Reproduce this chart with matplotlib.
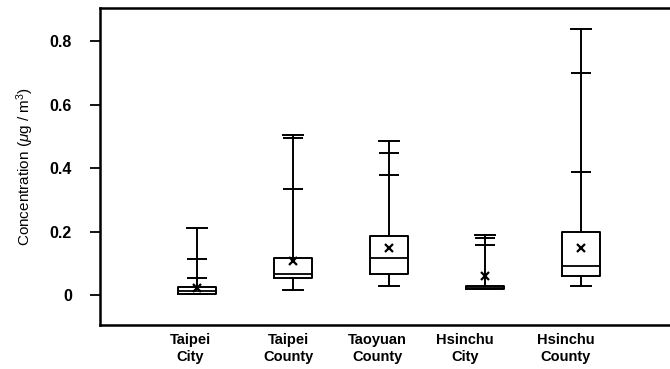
import matplotlib
matplotlib.use("Agg")
import matplotlib.pyplot as plt

plt.rcParams["font.family"] = ["Liberation Sans", "DejaVu Sans"]
plt.rcParams["mathtext.fontset"] = "custom"
plt.rcParams["mathtext.rm"] = "Liberation Sans"
plt.rcParams["mathtext.it"] = "Liberation Sans:italic"

# sites and box statistics (ug/m3)
sites = ["Taipei\nCity", "Taipei\nCounty", "Taoyuan\nCounty", "Hsinchu\nCity", "Hsinchu\nCounty"]
lows = [0.003, 0.017, 0.027, 0.018, 0.029]
q1s = [0.003, 0.055, 0.067, 0.018, 0.059]
medians = [0.012, 0.065, 0.118, 0.022, 0.091]
q3s = [0.024, 0.116, 0.187, 0.027, 0.200]
means = [0.023, 0.107, 0.147, 0.059, 0.149]
p90s = [0.054, 0.335, 0.377, 0.159, 0.389]
p95s = [0.113, 0.496, 0.447, 0.179, 0.700]
highs = [0.2125, 0.506, 0.487, 0.188, 0.839]

yticks = [0, 0.2, 0.4, 0.6, 0.8]
ytick_labels = ["0", "0.2", "0.4", "0.6", "0.8"]

positions = list(range(1, len(sites) + 1))
label_shift = [-0.07, -0.05, -0.12, -0.21, -0.16]

fig = plt.figure(figsize=(6.7, 3.69), dpi=100)
ax = fig.add_axes([0.149, 0.119, 0.853, 0.859])

stats = []
for i in range(len(sites)):
    stats.append({
        "whislo": lows[i], "q1": q1s[i], "med": medians[i], "q3": q3s[i],
        "whishi": highs[i], "mean": means[i], "fliers": [],
    })

line = dict(color="black", linewidth=1.4)
ax.bxp(stats, positions=positions, widths=0.4, showmeans=True,
       boxprops=line, whiskerprops=line, capprops=line,
       medianprops=dict(color="black", linewidth=1.3),
       meanprops=dict(marker="x", markeredgecolor="black", markersize=6,
                      markeredgewidth=1.6),
       capwidths=0.21)

# extra percentile marks on the upper whisker
ax.hlines(p90s, [p - 0.105 for p in positions], [p + 0.105 for p in positions],
          color="black", linewidth=1.4)
ax.hlines(p95s, [p - 0.105 for p in positions], [p + 0.105 for p in positions],
          color="black", linewidth=1.4)

ax.set_xlim(-0.01, 5.94)
ax.set_ylim(-0.095, 0.905)
ax.set_yticks(yticks)
ax.set_yticklabels(ytick_labels, fontsize=11.5, fontweight="bold")
ax.set_xticks([p + s for p, s in zip(positions, label_shift)])
ax.set_xticklabels(sites, fontsize=10.5, fontweight="bold", linespacing=1.2)
ax.tick_params(axis="x", length=0, pad=6)
ax.tick_params(axis="y", direction="out", length=7, width=1.3, pad=13)
for sp in ax.spines.values():
    sp.set_linewidth(1.8)

ax.set_ylabel(r"Concentration ($\mathit{\mu}$g / m$^3$)", fontsize=11, labelpad=10)

fig.savefig("out.png", dpi=100)
